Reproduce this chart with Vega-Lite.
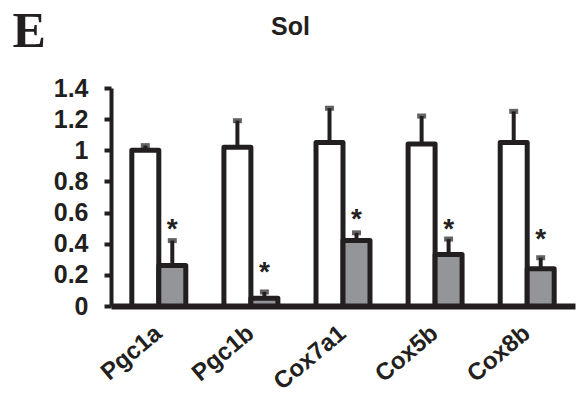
{
  "$schema": "https://vega.github.io/schema/vega-lite/v6.json",
  "width": 464,
  "height": 218,
  "autosize": {"type": "none"},
  "padding": {"left": 111, "top": 88, "right": 3, "bottom": 105},
  "background": "white",
  "data": {
    "values": [
      {"gene": "Pgc1a", "group": "Control", "value": 1.0, "upper": 1.03, "star": null},
      {"gene": "Pgc1a", "group": "Treated", "value": 0.26, "upper": 0.42, "star": 0.53},
      {"gene": "Pgc1b", "group": "Control", "value": 1.02, "upper": 1.19, "star": null},
      {"gene": "Pgc1b", "group": "Treated", "value": 0.05, "upper": 0.09, "star": 0.26},
      {"gene": "Cox7a1", "group": "Control", "value": 1.05, "upper": 1.27, "star": null},
      {"gene": "Cox7a1", "group": "Treated", "value": 0.42, "upper": 0.47, "star": 0.595},
      {"gene": "Cox5b", "group": "Control", "value": 1.04, "upper": 1.22, "star": null},
      {"gene": "Cox5b", "group": "Treated", "value": 0.33, "upper": 0.43, "star": 0.53},
      {"gene": "Cox8b", "group": "Control", "value": 1.05, "upper": 1.25, "star": null},
      {"gene": "Cox8b", "group": "Treated", "value": 0.24, "upper": 0.31, "star": 0.47}
    ]
  },
  "encoding": {
    "x": {
      "field": "gene", "type": "nominal",
      "sort": ["Pgc1a", "Pgc1b", "Cox7a1", "Cox5b", "Cox8b"],
      "scale": {"paddingInner": 0.414, "paddingOuter": 0.226},
      "axis": {
        "title": "Sol",
        "titleFont": "Liberation Sans", "titleFontSize": 25, "titleFontWeight": "bold", "titleColor": "#231f20",
        "titleAngle": 0, "titleX": 179, "titleY": -272, "titleAlign": "center", "titleBaseline": "alphabetic"
      }
    },
    "xOffset": {"field": "group", "type": "nominal", "sort": ["Control", "Treated"], "scale": {"paddingInner": 0, "paddingOuter": 0}},
    "y": {
      "field": "value", "type": "quantitative",
      "scale": {"domain": [0, 1.4], "nice": false, "zero": true},
      "axis": {
        "values": [0, 0.2, 0.4, 0.6, 0.8, 1, 1.2, 1.4],
        "tickCount": 8,
        "labelOverlap": false,
        "labelSeparation": 0,
        "labelExpr": "datum.value == 0 ? '0' : datum.value == 1 ? '1' : format(datum.value, '.1f')",
        "title": "E",
        "titleFont": "Liberation Serif", "titleFontSize": 50, "titleFontWeight": "bold", "titleColor": "#231f20",
        "titleAngle": 0, "titleX": -99, "titleY": -42, "titleAlign": "left", "titleBaseline": "alphabetic"
      }
    }
  },
  "layer": [
    {
      "mark": {"type": "bar", "stroke": "#231f20", "strokeWidth": 5, "strokeJoin": "round"},
      "encoding": {
        "fill": {
          "field": "group", "type": "nominal",
          "scale": {"domain": ["Control", "Treated"], "range": ["#ffffff", "#939598"]},
          "legend": null
        }
      }
    },
    {
      "mark": {"type": "rule", "color": "#231f20", "strokeWidth": 4},
      "encoding": {
        "y2": {"field": "upper"}
      }
    },
    {
      "mark": {"type": "tick", "color": "#231f20", "thickness": 5, "size": 9, "orient": "horizontal"},
      "encoding": {
        "y": {"field": "upper", "type": "quantitative"}
      }
    },
    {
      "transform": [{"filter": "datum.star != null"}],
      "mark": {"type": "text", "text": "*", "font": "Liberation Sans", "fontSize": 28, "fontWeight": "bold", "color": "#231f20", "baseline": "middle", "dy": 7},
      "encoding": {
        "y": {"field": "star", "type": "quantitative"}
      }
    }
  ],
  "config": {
    "view": {"stroke": null},
    "axisY": {
      "grid": false,
      "labelOverlap": false, "labelFlush": false, "labelBound": false,
      "domainColor": "#231f20", "domainWidth": 4,
      "tickColor": "#231f20", "tickWidth": 4, "tickSize": 7,
      "labelFont": "Liberation Sans", "labelFontSize": 25, "labelFontWeight": "bold", "labelColor": "#231f20",
      "labelPadding": 16
    },
    "axisX": {
      "domain": true, "domainColor": "#231f20", "domainWidth": 6,
      "ticks": false, "grid": false,
      "labelAngle": -40, "labelFont": "Liberation Sans", "labelFontSize": 24, "labelFontWeight": "bold",
      "labelColor": "#231f20", "labelPadding": 24, "labelAlign": "right", "labelBaseline": "middle",
      "labelOverlap": false, "labelBound": false
    }
  }
}
